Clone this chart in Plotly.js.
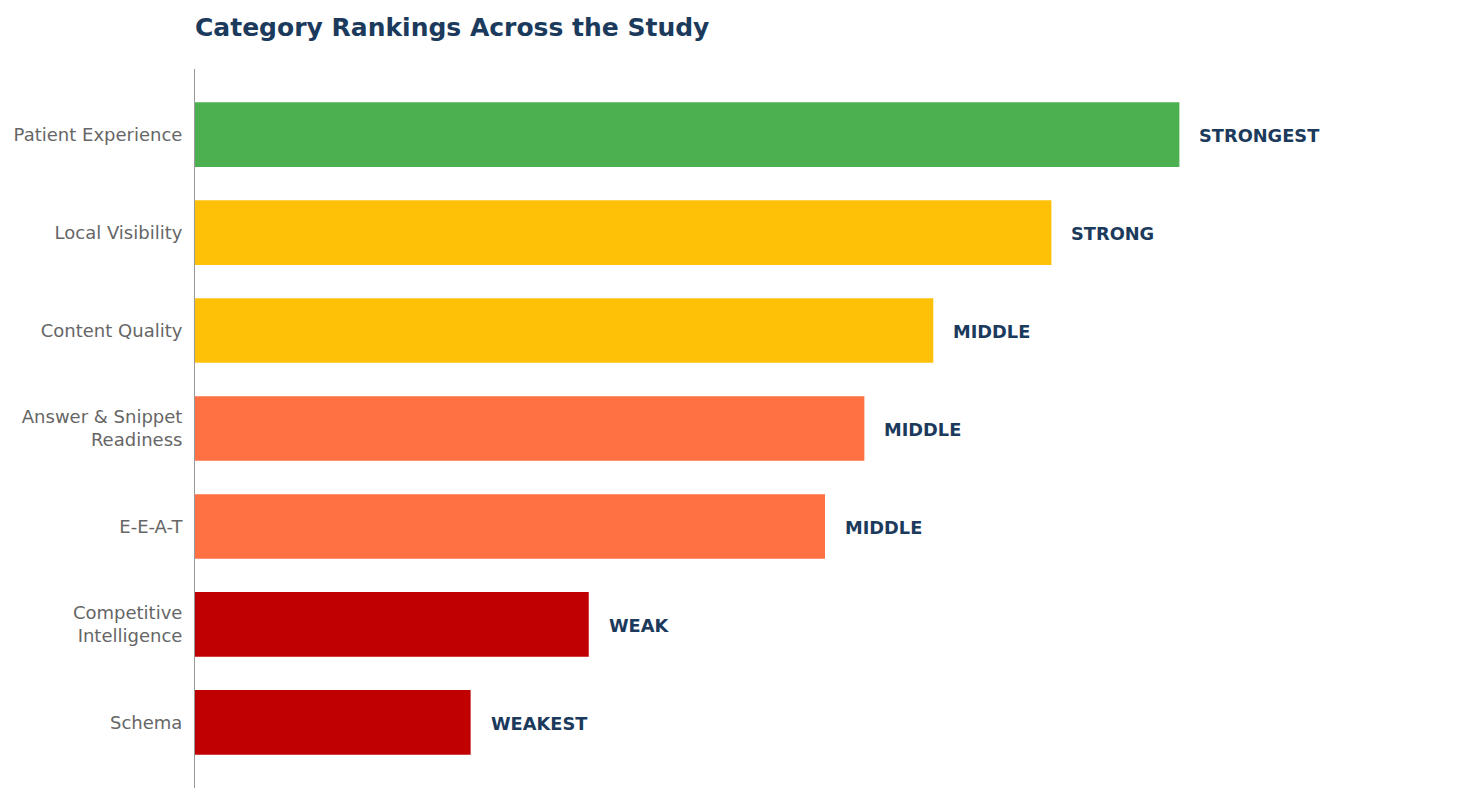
<!DOCTYPE html>
<html>
<head>
<meta charset="utf-8">
<script src="https://cdn.plot.ly/plotly-3.0.1.min.js"></script>
<style>html,body{margin:0;padding:0;background:#fff}#chart{width:1470px;height:803px}</style>
</head>
<body>
<div id="chart"></div>
<script>
// categories top to bottom
const categories = ["Patient Experience","Local Visibility","Content Quality","Answer & Snippet<br>Readiness","E-E-A-T","Competitive<br>Intelligence","Schema"];
const scores = [100, 87, 75, 68, 64, 40, 28];
const rankLabels = ["STRONGEST","STRONG","MIDDLE","MIDDLE","MIDDLE","WEAK","WEAKEST"];
const barColors = ["#4caf50","#ffc107","#ffc107","#ff7043","#ff7043","#c00000","#c00000"];

const NAVY = "#1b3a5c";
const FONT = "DejaVu Sans, sans-serif";

const trace = {
  type: "bar", orientation: "h",
  x: scores, y: categories,
  marker: {color: barColors, line: {width: 0}},
  width: 0.66,
  hoverinfo: "skip"
};

// rank labels sit just past each bar end
const notes = categories.map((c, i) => ({
  x: scores[i], y: c, xref: "x", yref: "y",
  text: "<b>" + rankLabels[i] + "</b>",
  showarrow: false, xanchor: "left", xshift: 18, yshift: -1,
  font: {family: FONT, size: 17.8, color: NAVY}
}));

const layout = {
  width: 1470, height: 803,
  paper_bgcolor: "white", plot_bgcolor: "white",
  margin: {l: 195, r: 15, t: 69, b: 15},
  showlegend: false,
  title: {
    text: "<b>Category Rankings Across the Study</b>",
    x: 0, xref: "paper", xanchor: "left",
    y: 1 - 27/803, yref: "container", yanchor: "middle",
    font: {family: FONT, size: 25, color: NAVY}
  },
  xaxis: {range: [0, 128], visible: false, showgrid: false, zeroline: false},
  yaxis: {
    type: "category", categoryorder: "array", categoryarray: categories,
    range: [6.67, -0.67],
    showline: true, linecolor: "#999", linewidth: 1,
    showgrid: false, zeroline: false, ticks: "", ticklabelstandoff: 8,
    tickfont: {family: FONT, size: 18, color: "#666"}
  },
  annotations: notes
};

Plotly.newPlot("chart", [trace], layout, {displayModeBar: false, staticPlot: true});
</script>
</body>
</html>
